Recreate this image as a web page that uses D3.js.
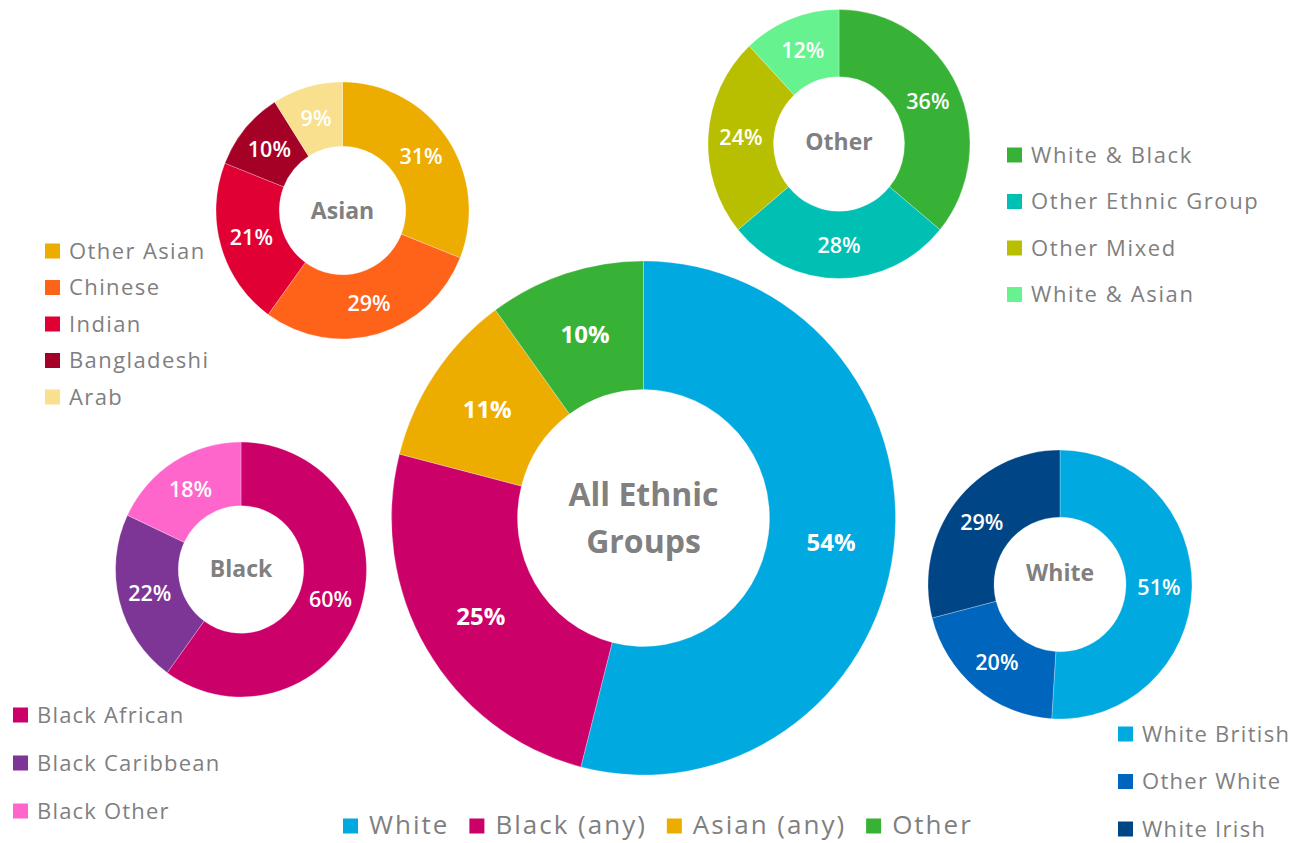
<!DOCTYPE html>
<html>
<head>
<meta charset="utf-8">
<script src="https://cdn.jsdelivr.net/npm/d3@7"></script>
<style>
  html, body { margin: 0; padding: 0; background: #ffffff; }
  svg { display: block; }
  text { font-family: "Open Sans", "Noto Sans", sans-serif; }
</style>
</head>
<body>
<svg id="chart" width="1306" height="843"></svg>
<script>
// ---------- DATA ----------
const mainCategories = ["White", "Black (any)", "Asian (any)", "Other"];
const mainValues = [54, 25, 11, 10];
const mainColors = ["#00A9E0", "#CC0069", "#EDAC00", "#38B236"];

const asianCategories = ["Other Asian", "Chinese", "Indian", "Bangladeshi", "Arab"];
const asianValues = [31, 29, 21, 10, 9];
const asianColors = ["#EDAC00", "#FF6319", "#E00034", "#A50026", "#F9E08E"];

const otherCategories = ["White & Black", "Other Ethnic Group", "Other Mixed", "White & Asian"];
const otherValues = [36, 28, 24, 12];
const otherColors = ["#38B236", "#00BFB3", "#B8BF00", "#66F28E"];

const blackCategories = ["Black African", "Black Caribbean", "Black Other"];
const blackValues = [60, 22, 18];
const blackColors = ["#CC0069", "#7D3596", "#FF66CC"];

const whiteCategories = ["White British", "Other White", "White Irish"];
const whiteValues = [51, 20, 29];
const whiteColors = ["#00A9E0", "#0065BD", "#004687"];

// ---------- DRAW ----------
const svg = d3.select("#chart");
const gray = "#7f7f7f";

function donut(cfg) {
  const { cx, cy, rx, ry, hole, values, colors, title, titleSize, titleLines, titleShift, labelSize, labelWeight } = cfg;
  const sy = ry / rx;
  const pie = d3.pie().sort(null).value(d => d)(values);
  const arc = d3.arc().innerRadius(rx * hole).outerRadius(rx);
  const g = svg.append("g").attr("transform", `translate(${cx},${cy}) scale(1,${sy})`);
  g.selectAll("path").data(pie).join("path")
    .attr("d", arc)
    .attr("fill", (d, i) => colors[i])
    .attr("stroke", "rgba(255,255,255,0.45)")
    .attr("stroke-width", 0.6);
  const lg = svg.append("g").attr("transform", `translate(${cx},${cy})`);
  lg.selectAll("text.pct").data(pie).join("text")
    .attr("class", "pct")
    .attr("x", d => arc.centroid(d)[0])
    .attr("y", d => arc.centroid(d)[1] * sy)
    .attr("dy", "0.36em")
    .attr("text-anchor", "middle")
    .attr("fill", "#ffffff")
    .attr("font-size", labelSize)
    .attr("font-weight", labelWeight)
    .text(d => Math.round(d.data) + "%");
  const lines = titleLines || [title];
  const lh = titleSize * 1.47;
  lines.forEach((t, i) => {
    lg.append("text")
      .attr("x", 0)
      .attr("y", (i - (lines.length - 1) / 2) * lh + (titleShift || 0))
      .attr("dy", "0.36em")
      .attr("text-anchor", "middle")
      .attr("fill", "#808080")
      .attr("font-size", titleSize)
      .attr("font-weight", "bold")
      .text(t);
  });
}

function vLegend(cats, colors, x0, y0, step, size, fontSize, spacing) {
  const g = svg.append("g");
  cats.forEach((c, i) => {
    const y = y0 + i * step;
    g.append("rect").attr("x", x0).attr("y", y - size / 2).attr("width", size).attr("height", size)
      .attr("fill", colors[i]);
    g.append("text").attr("x", x0 + size + 9).attr("y", y).attr("dy", "0.36em")
      .attr("font-size", fontSize).attr("fill", gray).attr("letter-spacing", spacing)
      .text(c);
  });
}

donut({ cx: 643.5, cy: 518, rx: 252, ry: 257, hole: 0.5, values: mainValues, colors: mainColors,
  titleLines: ["All Ethnic", "Groups"], titleSize: 32, labelSize: 24, labelWeight: "bold" });
donut({ cx: 342.5, cy: 210.5, rx: 126.5, ry: 128.5, hole: 0.5, values: asianValues, colors: asianColors,
  title: "Asian", titleSize: 23, labelSize: 21.5, labelWeight: "600" });
donut({ cx: 839, cy: 144, rx: 131, ry: 134.5, hole: 0.5, values: otherValues, colors: otherColors,
  title: "Other", titleSize: 23, titleShift: -2, labelSize: 21.5, labelWeight: "600" });
donut({ cx: 241, cy: 569.5, rx: 125.5, ry: 127.5, hole: 0.5, values: blackValues, colors: blackColors,
  title: "Black", titleSize: 23, titleShift: -1, labelSize: 21.5, labelWeight: "600" });
donut({ cx: 1060, cy: 584.5, rx: 132, ry: 134.5, hole: 0.5, values: whiteValues, colors: whiteColors,
  title: "White", titleSize: 23, titleShift: -12, labelSize: 21.5, labelWeight: "600" });

vLegend(asianCategories, asianColors, 45, 251, 36.5, 15, 22, 1.4);
vLegend(otherCategories, otherColors, 1007, 155, 46.5, 15, 22, 1.6);
vLegend(blackCategories, blackColors, 13, 715, 48, 15, 22, 1.2);
vLegend(whiteCategories, whiteColors, 1118, 734, 47.5, 15, 22, 1.3);

// bottom horizontal legend
(function () {
  const g = svg.append("g");
  let x = 343;
  const y = 825, size = 15;
  mainCategories.forEach((c, i) => {
    g.append("rect").attr("x", x).attr("y", y - size / 2 + 1).attr("width", size).attr("height", size)
      .attr("fill", mainColors[i]);
    const t = g.append("text").attr("x", x + size + 11).attr("y", y).attr("dy", "0.36em")
      .attr("font-size", 26).attr("fill", gray).attr("letter-spacing", 2).text(c);
    x += size + 11 + t.node().getComputedTextLength() + 20;
  });
})();
</script>
</body>
</html>
